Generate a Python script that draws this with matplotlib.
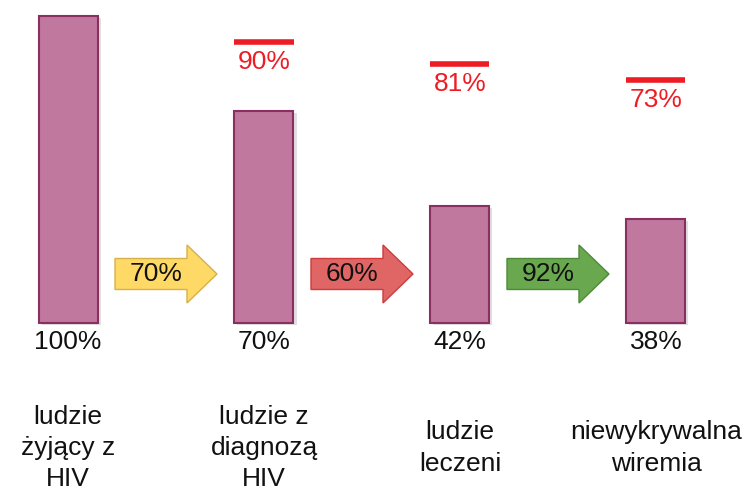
import matplotlib
matplotlib.use("Agg")
import matplotlib.pyplot as plt
from matplotlib.patches import Polygon, Rectangle

plt.rcParams['font.family'] = ['Liberation Sans', 'DejaVu Sans']

# ---- data ----
categories = ["ludzie\nżyjący z\nHIV", "ludzie z\ndiagnozą\nHIV", "ludzie\nleczeni", "niewykrywalna\nwiremia"]
bar_heights = [100, 69, 38, 34]          # heights as drawn in the picture
bar_labels = ["100%", "70%", "42%", "38%"]
target_levels = [91.5, 84.5, 79.3]       # red target lines (bars 2-4)
target_labels = ["90%", "81%", "73%"]
step_rates = ["70%", "60%", "92%"]
arrow_colors = ["#FFD966", "#E06666", "#6AA84F"]
arrow_edges = ["#D6B04A", "#D03A3A", "#4E8A3A"]

W, H = 749, 493
FS = 19
fig = plt.figure(figsize=(W / 100, H / 100), dpi=100)
ax = fig.add_axes([0, 0, 1, 1])
px_x = 196.0      # pixels per category step
px_y = 3.07       # pixels per percent unit
x0_px = 68.0
base_px = H - 323.0
ax.set_xlim(-x0_px / px_x, (W - x0_px) / px_x)
ax.set_ylim(-base_px / px_y, (H - base_px) / px_y)
ax.axis('off')

bar_w = 59 / px_x
xs = list(range(len(categories)))

# shadows
for x, h in zip(xs, bar_heights):
    ax.add_patch(Rectangle((x - bar_w / 2 + 3 / px_x, -2 / px_y), bar_w, h,
                           facecolor='#000000', alpha=0.12, edgecolor='none', zorder=1))
ax.bar(xs, bar_heights, width=bar_w, color='#C0789F', edgecolor='#8A2F60', linewidth=1.5, zorder=2)

for x, lab in zip(xs, bar_labels):
    ax.text(x, -19 / px_y, lab, ha='center', va='center', fontsize=FS, color='#111111')

# target lines
for x, lvl, lab in zip(xs[1:], target_levels, target_labels):
    ax.plot([x - bar_w / 2, x + bar_w / 2], [lvl, lvl], color='#EE1C24', linewidth=4, solid_capstyle='butt', zorder=3)
    ax.text(x, lvl - 20 / px_y, lab, ha='center', va='center', fontsize=FS, color='#EE1C24')

# arrows
L = 102 / px_x
hl = 30 / px_x
bh = 31 / px_y / 2
hh = 58 / px_y / 2
yc = (323 - 274) / px_y
for i, (rate, fc, ec) in enumerate(zip(step_rates, arrow_colors, arrow_edges)):
    xc = xs[i] + 0.5
    xl = xc - L / 2
    xr = xc + L / 2
    pts = [(xl, yc - bh), (xr - hl, yc - bh), (xr - hl, yc - hh), (xr, yc),
           (xr - hl, yc + hh), (xr - hl, yc + bh), (xl, yc + bh)]
    ax.add_patch(Polygon(pts, closed=True, facecolor=fc, edgecolor=ec, linewidth=1.0, zorder=3))
    ax.text(xl + (L - hl) / 2 + 5 / px_x, yc, rate, ha='center', va='center', fontsize=FS, color='#111111', zorder=4)

# category labels
for x, cat in zip(xs, categories):
    ax.text(x, (323 - 448) / px_y, cat, ha='center', va='center', fontsize=FS,
            color='#111111', linespacing=1.38)

fig.savefig("out.png", dpi=100)
